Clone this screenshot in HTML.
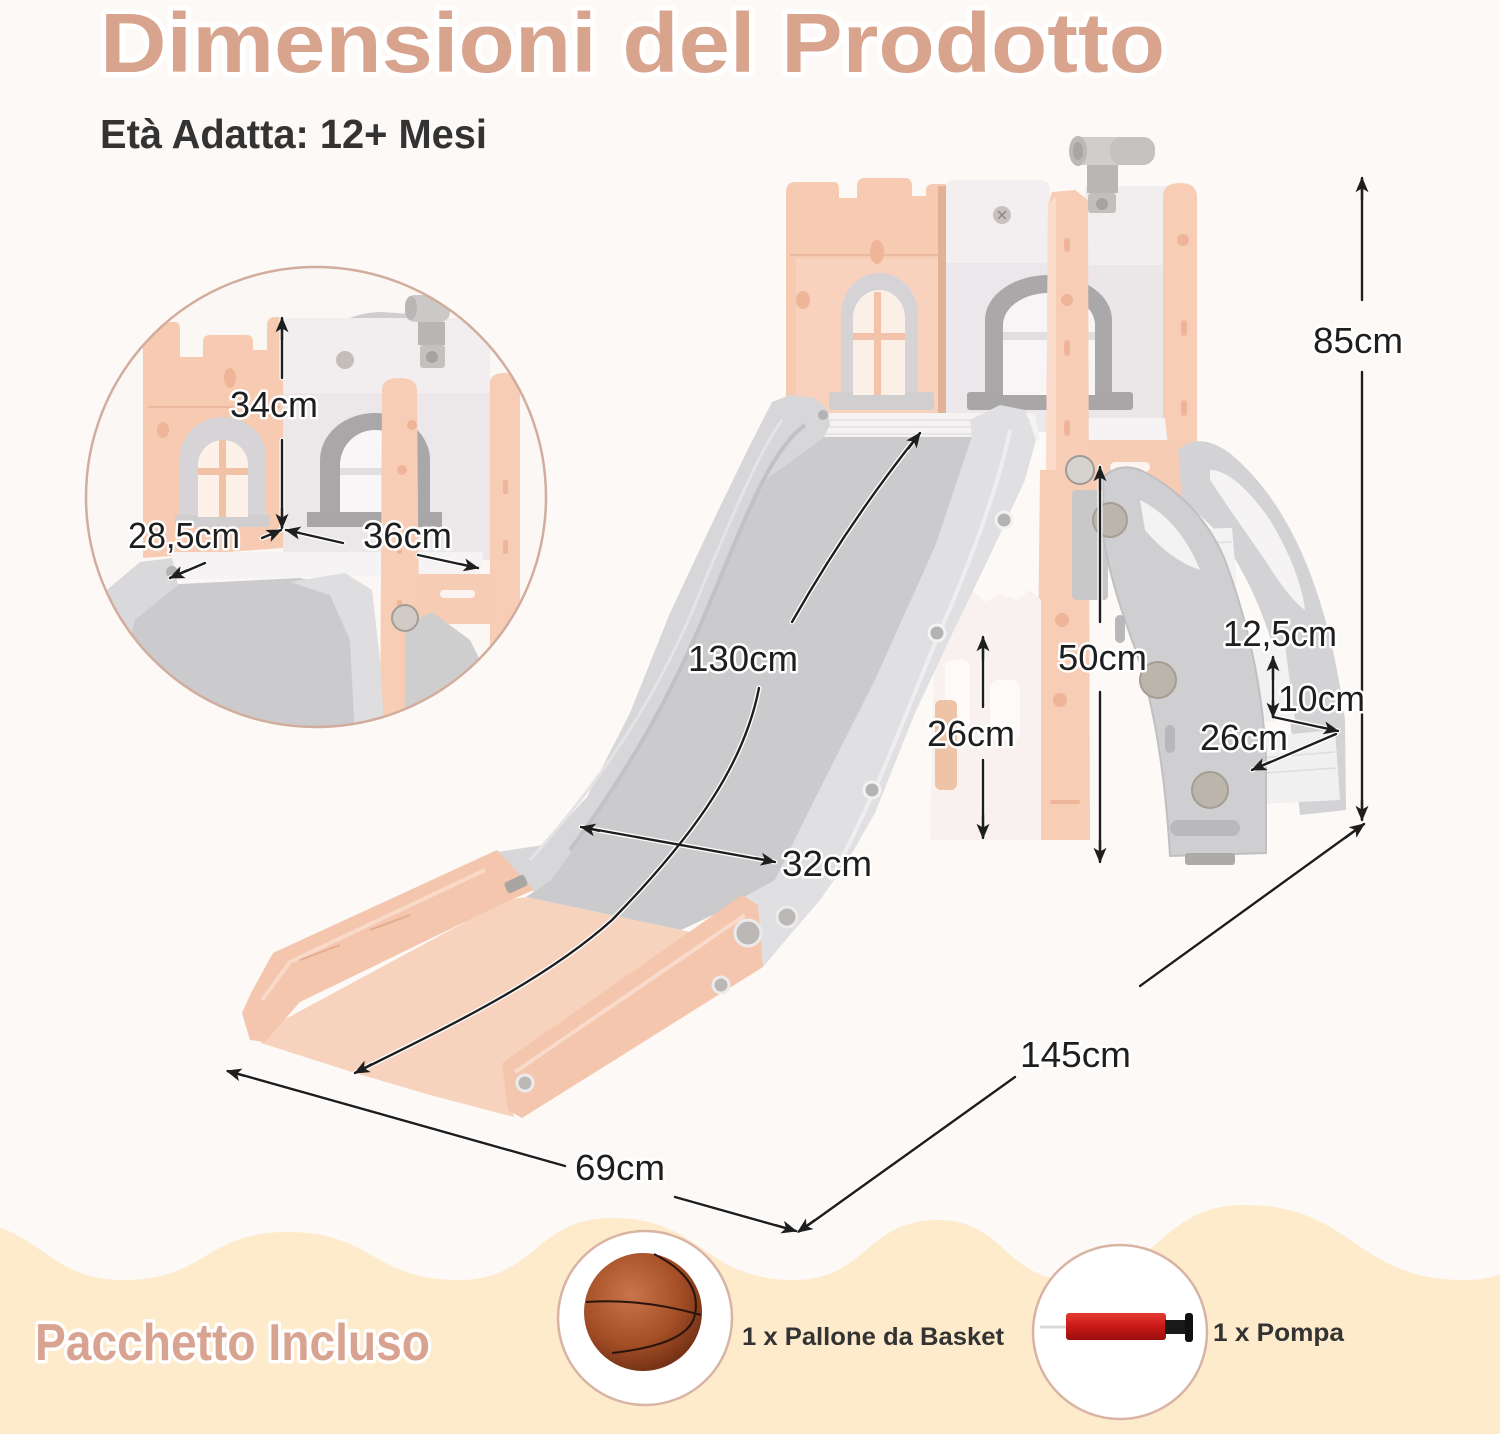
<!DOCTYPE html>
<html><head><meta charset="utf-8">
<style>
html,body{margin:0;padding:0;background:#fcf9f7;}
svg{display:block;}
.dim{font-family:"Liberation Sans",sans-serif;font-size:36px;fill:#1e1e1e;stroke:#fff;stroke-width:5px;paint-order:stroke;stroke-linejoin:round;}
</style></head>
<body>
<svg width="1500" height="1434" viewBox="0 0 1500 1434" xmlns="http://www.w3.org/2000/svg">
<defs>
<marker id="a" viewBox="0 0 12 10" refX="11" refY="5" markerWidth="16" markerHeight="13" markerUnits="userSpaceOnUse" orient="auto-start-reverse"><path d="M0,0 L12,5 L0,10 L3,5 z" fill="#1e1e1e"/></marker>
<radialGradient id="ball" cx="0.4" cy="0.35" r="0.7"><stop offset="0" stop-color="#c9754a"/><stop offset="0.6" stop-color="#a54f27"/><stop offset="1" stop-color="#6e2e14"/></radialGradient>
<linearGradient id="pump" x1="0" y1="0" x2="0" y2="1"><stop offset="0" stop-color="#e53a30"/><stop offset="0.5" stop-color="#c91818"/><stop offset="1" stop-color="#9a0f0f"/></linearGradient>
<clipPath id="inset"><circle cx="316" cy="497" r="230"/></clipPath>
</defs>

<rect width="1500" height="1434" fill="#fcf9f7"/>

<!-- cream wave -->
<path d="M-40,1222 C42,1222 42,1280 124,1280 C205.5,1280 205.5,1232 287,1232 C373,1232 373,1280 459,1280 C535.5,1280 535.5,1218 612,1218 C703,1218 703,1280 794,1280 C866,1280 866,1220 938,1220 C1005,1220 1005,1280 1072,1280 C1158,1280 1158,1205 1244,1205 C1354,1205 1354,1280 1464,1280 C1542,1280 1542,1220 1620,1220 L1620,1434 L-40,1434 Z" fill="#fdebcc"/>

<!-- Title -->
<text x="100" y="72" font-family="Liberation Sans, sans-serif" font-weight="bold" font-size="84" fill="#d9a48d" stroke="#fff" stroke-width="10" stroke-linejoin="round" paint-order="stroke" textLength="1065" lengthAdjust="spacingAndGlyphs">Dimensioni del Prodotto</text>
<text x="100" y="148" font-family="Liberation Sans, sans-serif" font-weight="bold" font-size="41" fill="#333" textLength="387" lengthAdjust="spacingAndGlyphs">Età Adatta: 12+ Mesi</text>

<!-- ================= TOWER ================= -->
<!-- right white back panel between posts -->
<rect x="1085" y="186" width="82" height="260" fill="#f2eef0"/>
<rect x="1085" y="265" width="82" height="180" fill="#ebe7e9"/>
<!-- white back panel -->
<path d="M946,188 Q946,180 954,180 L1040,180 Q1050,180 1050,190 L1050,432 L946,432 Z" fill="#f3eff1"/>
<rect x="946" y="263" width="104" height="169" fill="#ebe7ea"/>
<!-- left peach wall -->
<path d="M786,192 Q786,182 796,182 L834,182 Q839,182 839,190 L839,198 L857,198 L857,186 Q857,178 865,178 L905,178 Q912,178 912,186 L912,196 L926,196 L926,190 Q926,184 934,184 L946,184 L946,432 L786,432 Z" fill="#f6cbb2"/>
<rect x="796" y="258" width="144" height="168" fill="#f8d2bd"/>
<line x1="790" y1="255" x2="944" y2="255" stroke="#eab89c" stroke-width="2"/>
<rect x="938" y="186" width="8" height="246" fill="#e2b297"/>
<ellipse cx="877" cy="252" rx="7" ry="12" fill="#eeb598"/>
<ellipse cx="803" cy="300" rx="7" ry="9" fill="#eeb598"/>
<!-- left window -->
<path d="M841,400 L841,315 A38.5,42 0 0 1 918,315 L918,400 Z" fill="#d5d3d5"/>
<rect x="829" y="392" width="105" height="18" rx="3" fill="#d0cecf"/>
<path d="M853,395 L853,318 A26,28 0 0 1 905,318 L905,395 Z" fill="#fcefe7"/>
<rect x="874" y="292" width="7" height="103" fill="#f2c3a8"/>
<rect x="853" y="333" width="52" height="7" fill="#f2c3a8"/>
<!-- center window -->
<path d="M985,400 L985,320 A63.5,45 0 0 1 1112,320 L1112,400 Z" fill="#aba8aa"/>
<rect x="967" y="392" width="166" height="18" rx="3" fill="#a9a6a8"/>
<path d="M1003,395 L1003,325 A46,32 0 0 1 1095,325 L1095,395 Z" fill="#f7f5f6"/>
<rect x="1003" y="332" width="92" height="8" fill="#e0dedf"/>
<!-- screw -->
<circle cx="1002" cy="215" r="9" fill="#c7c2bd"/>
<path d="M998,211 l8,8 M1006,211 l-8,8" stroke="#8d8884" stroke-width="1.5"/>
<!-- telescope -->
<rect x="1070" y="137" width="85" height="28" rx="12" fill="#d0cdcd"/>
<rect x="1110" y="137" width="45" height="28" rx="12" fill="#c5c2c2"/>
<ellipse cx="1078" cy="151" rx="9" ry="15" fill="#bdb9b9"/>
<ellipse cx="1078" cy="151" rx="5" ry="9" fill="#a9a5a5"/>
<rect x="1087" y="165" width="31" height="28" fill="#bab6b4"/>
<rect x="1088" y="193" width="28" height="20" rx="3" fill="#c3bfbd"/>
<circle cx="1102" cy="204" r="6" fill="#a7a29f"/>
<!-- right post -->
<path d="M1163,197 Q1163,183 1180,183 Q1197,183 1197,197 L1197,470 L1163,470 Z" fill="#f7cdb5"/>
<rect x="1181" y="320" width="6" height="16" rx="3" fill="#eeb598"/>
<rect x="1181" y="400" width="6" height="16" rx="3" fill="#eeb598"/>
<circle cx="1183" cy="240" r="6" fill="#eeb598"/>
<!-- platform floor inside -->
<polygon points="1088,418 1165,418 1168,446 1088,446" fill="#f5f3f4"/>
<!-- peach apron -->
<polygon points="1085,440 1182,440 1182,525 1085,525" fill="#f6ccb4"/>
<rect x="1110" y="462" width="40" height="10" rx="5" fill="#fbf4f0"/>
<!-- front post -->
<polygon points="1048,205 1052,192 1075,190 1088,200 1090,840 1036,840 1040,470 1046,470" fill="#f7cdb5"/>
<polygon points="1048,205 1056,196 1056,470 1046,470" fill="#fbdccb"/>
<g fill="#eeb598">
<rect x="1064" y="238" width="6" height="14" rx="3"/>
<circle cx="1067" cy="300" r="6"/>
<rect x="1064" y="340" width="6" height="16" rx="3"/>
<rect x="1064" y="420" width="6" height="16" rx="3"/>
<circle cx="1062" cy="620" r="7"/>
<circle cx="1060" cy="700" r="7"/>
<rect x="1050" y="800" width="30" height="4" rx="2"/>
</g>

<!-- small fence behind slide -->
<polygon points="935,612 948,592 972,590 985,602 1000,594 1017,600 1030,590 1041,600 1041,840 930,840" fill="#f8f1ef"/>
<rect x="945" y="660" width="25" height="70" rx="8" fill="#fdfaf9"/>
<rect x="990" y="680" width="30" height="60" rx="8" fill="#fdfaf9"/>
<rect x="935" y="700" width="22" height="90" rx="6" fill="#efc3a6"/>

<!-- ================= SLIDE ================= -->
<!-- platform floor -->
<polygon points="822,413 1035,413 1040,440 818,440" fill="#f4f2f3"/>
<g stroke="#e3e0e2" stroke-width="1.5"><line x1="830" y1="420" x2="1030" y2="420"/><line x1="828" y1="427" x2="1032" y2="427"/><line x1="826" y1="434" x2="1034" y2="434"/></g>
<!-- bed -->
<polygon points="824,437 972,437 935,547 875,680 816,797 775,880 745,900 681,930 526,897 551,880 599,813 666,697 725,563 765,480" fill="#cbcacc"/>
<!-- left rail -->
<polygon points="772,402 790,395 815,398 828,410 830,425 824,437 765,480 725,563 666,697 599,813 551,880 534,892 497,852 543,845 587,797 630,713 670,613 717,513 749,447" fill="#d7d6d8"/>
<path d="M805,425 C770,450 745,520 715,590 C680,680 630,770 570,850" fill="none" stroke="#c2c1c3" stroke-width="4"/>
<path d="M782,420 C760,450 735,510 705,580 C670,670 620,760 530,860" fill="none" stroke="#e4e3e5" stroke-width="3"/>
<!-- right rail -->
<polygon points="970,420 1000,405 1025,410 1036,440 1025,480 994,547 954,630 915,713 875,813 848,860 820,900 790,935 763,967 742,898 775,880 816,797 875,680 935,547 972,437" fill="#e0dfe1"/>
<path d="M1010,430 C1000,480 975,550 945,620 C910,700 880,790 830,880" fill="none" stroke="#eeedef" stroke-width="4"/>
<g fill="#b5b2b2" stroke="#f3f2f3" stroke-width="3">
<circle cx="1004" cy="520" r="8"/><circle cx="937" cy="633" r="8"/><circle cx="872" cy="790" r="8"/>
</g>
<circle cx="823" cy="415" r="5" fill="#b5b2b2"/>

<!-- peach end piece -->
<polygon points="526,897 690,932 742,898 502,1063 514,1117 430,1095 355,1073 261,1043 265,1030 506,900" fill="#f7d3be"/>
<polygon points="497,850 534,890 506,902 300,1002 265,1042 250,1040 242,1013 251,993 273,953" fill="#f4c6ad"/>
<path d="M485,870 L290,962 L262,1000" fill="none" stroke="#f9d9c7" stroke-width="4"/>
<g stroke="#e5ad90" stroke-width="2"><line x1="300" y1="960" x2="340" y2="945"/><line x1="370" y1="930" x2="410" y2="915"/></g>
<polygon points="742,895 758,905 763,967 522,1118 508,1110 502,1063" fill="#f4c6ad"/>
<path d="M745,915 L515,1072" stroke="#f9dacb" stroke-width="4"/>
<rect x="505" y="878" width="22" height="12" rx="3" fill="#a9a5a3" transform="rotate(-25 516 884)"/>
<g fill="#bcb8b6" stroke="#ecebec" stroke-width="3">
<circle cx="748" cy="933" r="13"/><circle cx="787" cy="917" r="10"/>
<circle cx="721" cy="985" r="8"/><circle cx="525" cy="1083" r="8"/>
</g>

<!-- ================= STAIR ================= -->
<rect x="1072" y="490" width="36" height="110" rx="4" fill="#c9c8c9"/>
<circle cx="1080" cy="470" r="14" fill="#d6d3cf" stroke="#9f9b98" stroke-width="2"/>
<!-- rear handle -->
<path d="M1178,450 Q1200,430 1232,455 Q1320,530 1345,720 L1346,810 L1300,815 L1290,720 Q1270,600 1215,530 Q1190,505 1182,500 Z" fill="#d3d2d4"/>
<path d="M1210,470 Q1235,470 1270,520 Q1300,570 1305,610 Q1290,600 1265,560 Q1230,510 1210,480 Z" fill="#f5f3f4"/>
<!-- steps -->
<polygon points="1145,530 1232,528 1238,600 1155,605" fill="#f4f3f4"/>
<polygon points="1190,648 1285,645 1295,720 1205,725" fill="#f3f2f3"/>
<polygon points="1225,740 1335,730 1340,800 1240,805" fill="#f1f0f1"/>
<g stroke="#dedcde" stroke-width="1.5"><line x1="1150" y1="545" x2="1232" y2="542"/><line x1="1235" y1="760" x2="1335" y2="752"/><line x1="1237" y1="775" x2="1336" y2="768"/></g>
<!-- front stringer -->
<path d="M1103,478 Q1118,462 1140,470 Q1200,500 1225,560 Q1262,660 1266,760 L1266,853 L1170,856 Q1162,720 1132,640 Q1110,580 1104,540 Z" fill="#cfced0" stroke="#c0bfc1" stroke-width="2"/>
<path d="M1140,500 Q1180,520 1200,570 Q1170,560 1145,530 Z" fill="#f4f3f4"/>
<rect x="1115" y="615" width="10" height="28" rx="5" fill="#b8b7b9"/>
<rect x="1165" y="725" width="10" height="28" rx="5" fill="#b8b7b9"/>
<rect x="1170" y="820" width="70" height="16" rx="8" fill="#b9b8ba"/>
<rect x="1185" y="853" width="50" height="12" rx="3" fill="#aeaaa7"/>
<g fill="#bcb5ab" stroke="#a49d94" stroke-width="2">
<circle cx="1110" cy="520" r="17"/><circle cx="1158" cy="680" r="18"/><circle cx="1210" cy="790" r="18"/>
</g>

<!-- ================= INSET ================= -->
<g clip-path="url(#inset)">
<rect x="80" y="260" width="480" height="480" fill="#fbf7f5"/>
<path d="M335,340 Q340,318 380,316 L410,318" fill="none" stroke="#cfcdce" stroke-width="8"/>
<path d="M283,325 Q283,318 290,318 L480,318 Q490,318 490,328 L490,560 L283,560 Z" fill="#f2eef0"/>
<rect x="283" y="393" width="207" height="167" fill="#ece8ea"/>
<path d="M143,330 Q143,322 150,322 L176,322 Q180,322 180,330 L180,357 L203,357 L203,342 Q203,335 210,335 L247,335 Q253,335 253,342 L253,350 L267,350 L267,325 Q267,317 275,317 L283,317 L283,548 L143,558 Z" fill="#f6cbb2"/>
<line x1="148" y1="407" x2="280" y2="407" stroke="#eab89c" stroke-width="2"/>
<ellipse cx="230" cy="378" rx="6" ry="10" fill="#eeb598"/>
<ellipse cx="163" cy="430" rx="6" ry="8" fill="#eeb598"/>
<!-- left window -->
<path d="M180,527 L180,457 A43,40 0 0 1 266,457 L266,527 Z" fill="#d6d4d6"/>
<rect x="175" y="515" width="95" height="12" fill="#d0cecf"/>
<path d="M198,517 L198,465 A25,25 0 0 1 248,465 L248,517 Z" fill="#fdf1ea"/>
<rect x="219" y="440" width="7" height="77" fill="#f2c2a6"/>
<rect x="198" y="468" width="50" height="7" fill="#f2c2a6"/>
<!-- center window -->
<path d="M320,527 L320,460 A55,47 0 0 1 430,460 L430,527 Z" fill="#aaa7a9"/>
<rect x="307" y="512" width="135" height="15" fill="#a9a6a8"/>
<path d="M340,512 L340,465 A35,35 0 0 1 410,465 L410,512 Z" fill="#f8f6f7"/>
<rect x="340" y="468" width="70" height="7" fill="#e1dfe0"/>
<circle cx="345" cy="360" r="9" fill="#c4beb9"/>
<!-- telescope -->
<rect x="405" y="295" width="45" height="27" rx="10" fill="#cbc8c8"/>
<ellipse cx="411" cy="308" rx="6" ry="12" fill="#bab6b5"/>
<rect x="418" y="322" width="27" height="23" fill="#b9b5b3"/>
<rect x="420" y="345" width="25" height="23" rx="3" fill="#c5c1bf"/>
<circle cx="432" cy="357" r="6" fill="#a7a29f"/>
<!-- floor -->
<polygon points="172,552 483,552 480,574 170,580" fill="#f5f3f4"/>
<rect x="417" y="574" width="75" height="50" fill="#f6ccb4"/>
<rect x="440" y="590" width="35" height="8" rx="4" fill="#fbf4f0"/>
<!-- posts -->
<path d="M382,390 Q382,378 399,378 Q417,378 417,390 L420,740 L380,740 Z" fill="#f7cdb5"/>
<path d="M490,383 Q490,373 505,373 Q520,373 520,385 L520,740 L490,740 Z" fill="#f7cdb5"/>
<g fill="#eeb598"><circle cx="412" cy="425" r="5"/><circle cx="402" cy="470" r="5"/><rect x="397" y="540" width="5" height="14" rx="2"/><rect x="397" y="600" width="5" height="14" rx="2"/><rect x="503" y="480" width="5" height="14" rx="2"/><rect x="503" y="540" width="5" height="14" rx="2"/></g>
<!-- slide -->
<polygon points="160,585 300,578 355,590 380,740 100,740 130,620" fill="#cbcacc"/>
<polygon points="95,600 140,562 172,558 178,585 135,620 105,740 80,740" fill="#d9d8da"/>
<polygon points="290,582 345,573 372,590 380,660 385,740 355,740 350,640 330,595" fill="#dedddf"/>
<circle cx="172" cy="572" r="6" fill="#b5b2b2"/>
<!-- stair -->
<polygon points="405,625 432,612 470,640 500,700 508,740 405,740" fill="#cfcecf"/>
<circle cx="405" cy="618" r="13" fill="#d0cbc5" stroke="#a29d99" stroke-width="2"/>
</g>
<circle cx="316" cy="497" r="230" fill="none" stroke="#d2ad9d" stroke-width="2.5"/>

<!-- ================= ARROWS ================= -->
<g id="arr" fill="none" stroke-linecap="round">
<line x1="1362" y1="300" x2="1362" y2="178"/>
<line x1="1362" y1="372" x2="1362" y2="820"/>
<line x1="1015" y1="1077" x2="800" y2="1231"/>
<line x1="1140" y1="986" x2="1364" y2="824"/>
<line x1="565" y1="1166" x2="228" y2="1071"/>
<line x1="675" y1="1197" x2="796" y2="1231"/>
<path d="M792,622 Q850,520 920,433"/>
<path d="M759,688 C745,760 700,830 612,920 C540,985 430,1035 355,1073"/>
<line x1="581" y1="827" x2="775" y2="862"/>
<line x1="1100" y1="622" x2="1100" y2="467"/>
<line x1="1100" y1="692" x2="1100" y2="862"/>
<line x1="983" y1="707" x2="983" y2="637"/>
<line x1="983" y1="760" x2="983" y2="838"/>
<line x1="1273" y1="657" x2="1273" y2="717"/>
<line x1="1273" y1="717" x2="1338" y2="731"/>
<line x1="1336" y1="734" x2="1252" y2="770"/>
<line x1="282" y1="378" x2="282" y2="318"/>
<line x1="282" y1="440" x2="282" y2="528"/>
<line x1="262" y1="538" x2="281" y2="530"/>
<line x1="205" y1="563" x2="170" y2="578"/>
<line x1="343" y1="543" x2="286" y2="530"/>
<line x1="418" y1="555" x2="478" y2="568"/>
</g>
<use href="#arr" stroke="#ffffff" stroke-width="5"/>
<use href="#arr" stroke="#1e1e1e" stroke-width="2.4"/>
<!-- markers on proper ends -->
<g fill="none" stroke="#1e1e1e" stroke-width="2.4">
<line x1="1362" y1="200" x2="1362" y2="178" marker-end="url(#a)"/>
<line x1="1362" y1="800" x2="1362" y2="820" marker-end="url(#a)"/>
<line x1="815" y1="1220" x2="798" y2="1232" marker-end="url(#a)"/>
<line x1="1345" y1="838" x2="1364" y2="824" marker-end="url(#a)"/>
<line x1="245" y1="1076" x2="227" y2="1071" marker-end="url(#a)"/>
<line x1="775" y1="1225" x2="796" y2="1231" marker-end="url(#a)"/>
<line x1="908" y1="449" x2="920" y2="433" marker-end="url(#a)"/>
<line x1="372" y1="1064" x2="355" y2="1073" marker-end="url(#a)"/>
<line x1="600" y1="831" x2="581" y2="827" marker-end="url(#a)"/>
<line x1="755" y1="858" x2="775" y2="862" marker-end="url(#a)"/>
<line x1="1100" y1="490" x2="1100" y2="467" marker-end="url(#a)"/>
<line x1="1100" y1="840" x2="1100" y2="862" marker-end="url(#a)"/>
<line x1="983" y1="660" x2="983" y2="637" marker-end="url(#a)"/>
<line x1="983" y1="815" x2="983" y2="838" marker-end="url(#a)"/>
<line x1="1273" y1="680" x2="1273" y2="657" marker-end="url(#a)"/>
<line x1="1273" y1="700" x2="1273" y2="717" marker-end="url(#a)"/>
<line x1="1320" y1="727" x2="1338" y2="731" marker-end="url(#a)"/>
<line x1="1270" y1="762" x2="1252" y2="770" marker-end="url(#a)"/>
<line x1="282" y1="340" x2="282" y2="318" marker-end="url(#a)"/>
<line x1="282" y1="508" x2="282" y2="528" marker-end="url(#a)"/>
<line x1="270" y1="535" x2="281" y2="530" marker-end="url(#a)"/>
<line x1="188" y1="570" x2="170" y2="578" marker-end="url(#a)"/>
<line x1="300" y1="533" x2="286" y2="530" marker-end="url(#a)"/>
<line x1="460" y1="564" x2="478" y2="568" marker-end="url(#a)"/>
</g>

<!-- ================= DIMENSION LABELS ================= -->
<text class="dim" x="1313" y="353" textLength="90" lengthAdjust="spacingAndGlyphs">85cm</text>
<text class="dim" x="688" y="671" textLength="110" lengthAdjust="spacingAndGlyphs">130cm</text>
<text class="dim" x="782" y="876" textLength="90" lengthAdjust="spacingAndGlyphs">32cm</text>
<text class="dim" x="927" y="746" textLength="88" lengthAdjust="spacingAndGlyphs">26cm</text>
<text class="dim" x="1058" y="670" textLength="89" lengthAdjust="spacingAndGlyphs">50cm</text>
<text class="dim" x="1223" y="646" textLength="114" lengthAdjust="spacingAndGlyphs">12,5cm</text>
<text class="dim" x="1278" y="711" textLength="87" lengthAdjust="spacingAndGlyphs">10cm</text>
<text class="dim" x="1200" y="750" textLength="88" lengthAdjust="spacingAndGlyphs">26cm</text>
<text class="dim" x="1020" y="1067" textLength="111" lengthAdjust="spacingAndGlyphs">145cm</text>
<text class="dim" x="575" y="1180" textLength="90" lengthAdjust="spacingAndGlyphs">69cm</text>
<text class="dim" x="230" y="417" textLength="88" lengthAdjust="spacingAndGlyphs">34cm</text>
<text class="dim" x="128" y="548" textLength="112" lengthAdjust="spacingAndGlyphs">28,5cm</text>
<text class="dim" x="363" y="548" textLength="89" lengthAdjust="spacingAndGlyphs">36cm</text>

<!-- ================= PACKAGE ================= -->
<text x="35" y="1360" font-family="Liberation Sans, sans-serif" font-weight="bold" font-size="52" fill="#d8a390" stroke="#fff" stroke-width="7" stroke-linejoin="round" paint-order="stroke" textLength="395" lengthAdjust="spacingAndGlyphs">Pacchetto Incluso</text>

<circle cx="645" cy="1318" r="87" fill="#ffffff" stroke="#d9b3a3" stroke-width="2.5"/>
<circle cx="643" cy="1312" r="59" fill="url(#ball)"/>
<path d="M586,1302 Q640,1298 701,1315" fill="none" stroke="#2a140c" stroke-width="2"/>
<path d="M654,1254 Q705,1280 694,1318 Q685,1345 612,1353" fill="none" stroke="#2a140c" stroke-width="2"/>

<circle cx="1120" cy="1332" r="87" fill="#ffffff" stroke="#d9b3a3" stroke-width="2.5"/>
<line x1="1040" y1="1327" x2="1068" y2="1327" stroke="#d8d8d8" stroke-width="3"/>
<rect x="1066" y="1313" width="100" height="27" rx="3" fill="url(#pump)"/>
<rect x="1165" y="1320" width="22" height="14" fill="#1a1a1a"/>
<rect x="1185" y="1313" width="8" height="29" rx="3" fill="#111"/>

<text x="742" y="1345" font-family="Liberation Sans, sans-serif" font-weight="bold" font-size="25" fill="#333" textLength="262" lengthAdjust="spacingAndGlyphs">1 x Pallone da Basket</text>
<text x="1213" y="1341" font-family="Liberation Sans, sans-serif" font-weight="bold" font-size="25" fill="#333" textLength="131" lengthAdjust="spacingAndGlyphs">1 x Pompa</text>
</svg>
</body></html>
